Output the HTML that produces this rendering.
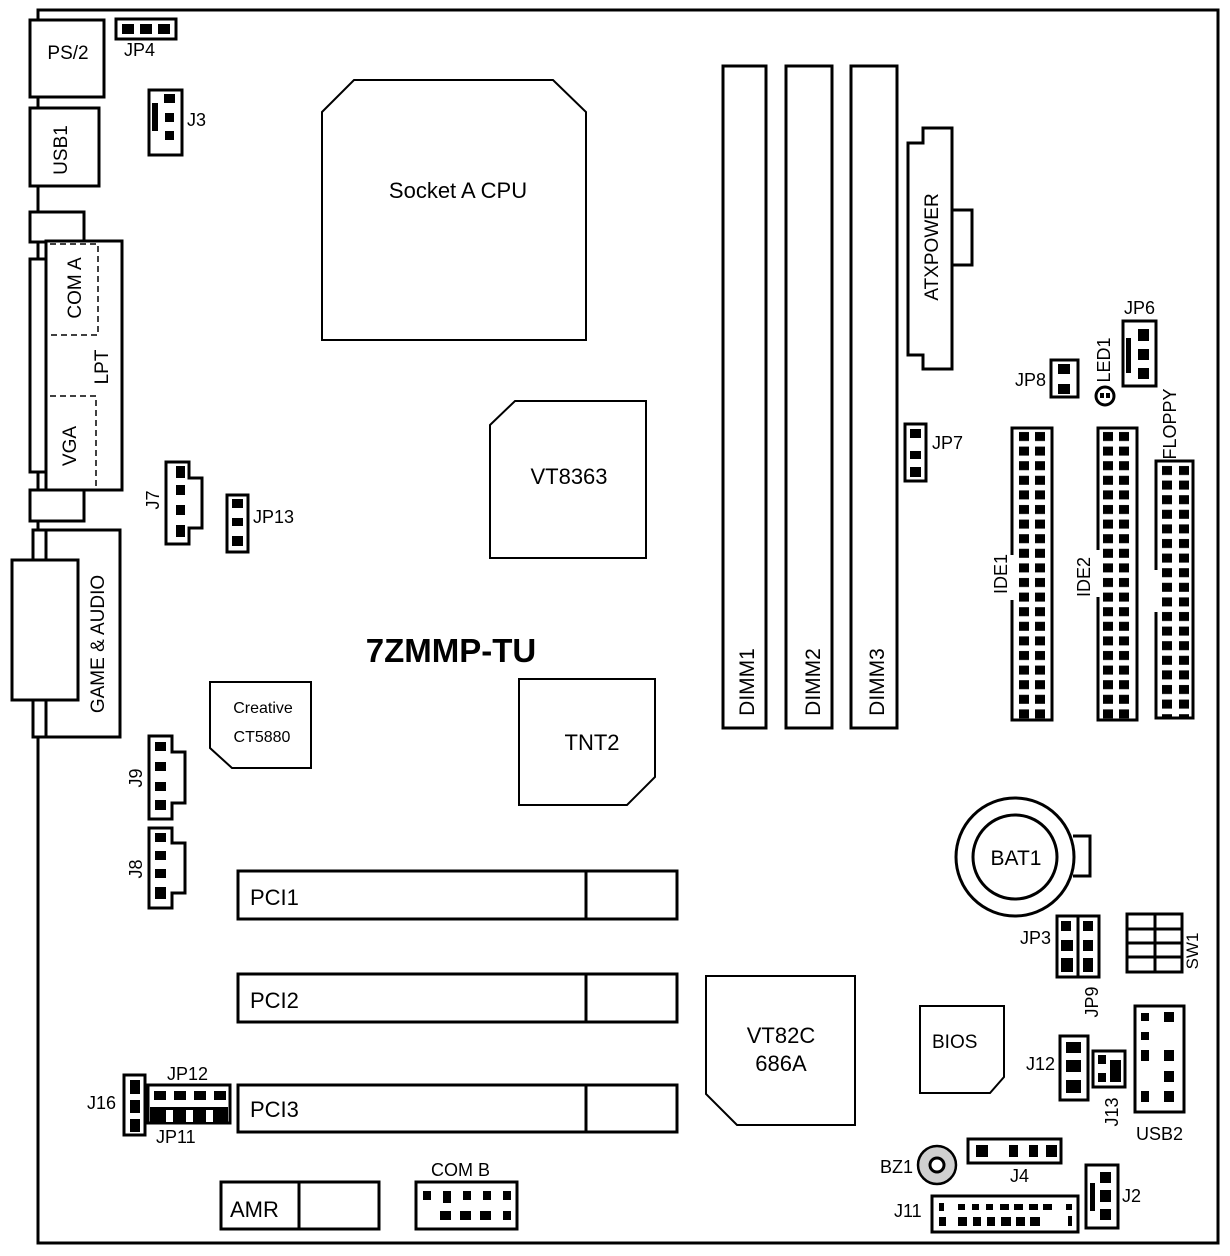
<!DOCTYPE html>
<html><head><meta charset="utf-8"><style>
html,body{margin:0;padding:0;background:#fff;}
svg{display:block;}
text{font-family:"Liberation Sans",sans-serif;fill:#000;}
</style></head><body>
<svg width="1230" height="1256" viewBox="0 0 1230 1256" xmlns="http://www.w3.org/2000/svg">
<defs>
<pattern id="ide" x="1018" y="430" width="16" height="14.6" patternUnits="userSpaceOnUse"><rect x="1" y="2" width="10" height="9" fill="#000"/></pattern>
<pattern id="ide2" x="1102" y="430" width="16" height="14.6" patternUnits="userSpaceOnUse"><rect x="1" y="2" width="10" height="9" fill="#000"/></pattern>
<pattern id="fdd" x="1161" y="464" width="17" height="14.6" patternUnits="userSpaceOnUse"><rect x="1" y="2" width="10" height="9" fill="#000"/></pattern>
</defs>
<g fill="none" stroke="#000" stroke-width="3">
<polyline points="38,20 38,10 1218,10 1218,1243 38,1243 38,1230"/>
<line x1="38" y1="97" x2="38" y2="108"/>
<line x1="38" y1="186" x2="38" y2="212"/>
<line x1="38" y1="737" x2="38" y2="1243"/>
<rect x="30" y="20" width="74" height="77" fill="#fff"/>
<rect x="116" y="19" width="60" height="20"/>
<rect x="149" y="90" width="33" height="65"/>
<rect x="30" y="108" width="69" height="78" fill="#fff"/>
<rect x="30" y="212" width="54" height="30"/>
<rect x="30" y="259" width="16" height="213"/>
<rect x="46" y="241" width="76" height="249" fill="#fff"/>
<rect x="30" y="490" width="54" height="31" fill="#fff"/>
<line x1="38" y1="242" x2="38" y2="259"/>
<line x1="38" y1="472" x2="38" y2="490"/>
<g stroke-width="1.5" stroke-dasharray="6,4"><polyline points="50,244 98,244 98,335 50,335"/><polyline points="50,396 96,396 96,489"/></g>
<rect x="33" y="530" width="87" height="207" fill="#fff"/>
<line x1="46" y1="530" x2="46" y2="737"/>
<rect x="12" y="560" width="66" height="140" fill="#fff"/>
<line x1="38" y1="521" x2="38" y2="530"/>
<polygon points="166,462 189,462 189,478 202,478 202,528 189,528 189,544 166,544"/>
<rect x="227" y="495" width="21" height="57"/>
<polygon points="322,112 354,80 553,80 586,112 586,340 322,340" stroke-width="2"/>
<polygon points="490,425 515,401 646,401 646,558 490,558" stroke-width="2"/>
<polygon points="210,682 311,682 311,768 232,768 210,748" stroke-width="2"/>
<polygon points="519,679 655,679 655,777 627,805 519,805" stroke-width="2"/>
<polygon points="149,736 172,736 172,752 185,752 185,803 172,803 172,819 149,819"/>
<polygon points="149,828 172,828 172,843 185,843 185,893 172,893 172,908 149,908"/>
<rect x="238" y="871" width="439" height="48"/><line x1="586" y1="871" x2="586" y2="919"/>
<rect x="238" y="974" width="439" height="48"/><line x1="586" y1="974" x2="586" y2="1022"/>
<rect x="238" y="1085" width="439" height="47"/><line x1="586" y1="1085" x2="586" y2="1132"/>
<polygon points="706,976 855,976 855,1125 737,1125 706,1094" stroke-width="2"/>
<rect x="723" y="66" width="43" height="662"/>
<rect x="786" y="66" width="46" height="662"/>
<rect x="851" y="66" width="46" height="662"/>
<polygon points="923,128 952,128 952,369 923,369 923,355 908,355 908,143 923,143"/>
<polyline points="952,210 972,210 972,265 952,265"/>
<rect x="905" y="424" width="21" height="57"/>
<rect x="1051" y="360" width="27" height="37"/>
<rect x="1123" y="321" width="33" height="65"/>
<circle cx="1105" cy="396" r="9"/>
<polyline points="1012,555 1012,428 1052,428 1052,720 1012,720 1012,600"/>
<polyline points="1098,550 1098,428 1137,428 1137,720 1098,720 1098,597"/>
<polyline points="1156,570 1156,461 1193,461 1193,718 1156,718 1156,612"/>
<circle cx="1015" cy="857" r="59" stroke-width="3"/>
<circle cx="1015" cy="857" r="42"/>
<polyline points="1073,836 1090,836 1090,876 1073,876"/>
<rect x="1057" y="916" width="42" height="61"/><line x1="1078" y1="916" x2="1078" y2="977"/>
<rect x="1127" y="914" width="55" height="58"/>
<line x1="1155" y1="914" x2="1155" y2="972"/>
<line x1="1127" y1="929" x2="1182" y2="929"/><line x1="1127" y1="943" x2="1182" y2="943"/><line x1="1127" y1="957" x2="1182" y2="957"/>
<polygon points="920,1006 1004,1006 1004,1077 990,1093 920,1093" stroke-width="2"/>
<rect x="1060" y="1036" width="28" height="64"/>
<rect x="1093" y="1051" width="32" height="36"/>
<rect x="1135" y="1006" width="49" height="106"/>
<rect x="968" y="1139" width="93" height="24"/>
<circle cx="937" cy="1165" r="19" fill="#d0d0d0" stroke-width="2.5"/>
<circle cx="937" cy="1165" r="7" fill="#fff" stroke-width="3"/>
<rect x="932" y="1196" width="146" height="36"/>
<rect x="1086" y="1165" width="32" height="63"/>
<rect x="124" y="1075" width="21" height="60"/>
<rect x="148" y="1085" width="82" height="38"/>
<rect x="221" y="1182" width="158" height="47"/><line x1="299" y1="1182" x2="299" y2="1229"/>
<rect x="416" y="1182" width="101" height="47"/>
</g>
<g fill="#000">
<rect x="122" y="24" width="12" height="10"/><rect x="140" y="24" width="12" height="10"/><rect x="158" y="24" width="12" height="10"/>
<rect x="152" y="103" width="6" height="28"/><rect x="164" y="94" width="11" height="9"/><rect x="165" y="113" width="9" height="9"/><rect x="165" y="131" width="9" height="9"/>
<rect x="176" y="466" width="9" height="12"/><rect x="176" y="485" width="9" height="10"/><rect x="176" y="505" width="9" height="10"/><rect x="176" y="525" width="9" height="12"/>
<rect x="232" y="499" width="11" height="9"/><rect x="232" y="518" width="11" height="8"/><rect x="232" y="536" width="11" height="10"/>
<rect x="155" y="742" width="11" height="9"/><rect x="155" y="762" width="11" height="9"/><rect x="155" y="782" width="11" height="9"/><rect x="155" y="800" width="11" height="10"/>
<rect x="155" y="833" width="11" height="9"/><rect x="155" y="851" width="11" height="9"/><rect x="155" y="869" width="11" height="9"/><rect x="155" y="887" width="11" height="12"/>
<rect x="910" y="429" width="11" height="9"/><rect x="910" y="451" width="11" height="8"/><rect x="910" y="467" width="11" height="10"/>
<rect x="1058" y="364" width="12" height="10"/><rect x="1058" y="384" width="12" height="10"/>
<rect x="1100" y="393" width="4" height="5"/><rect x="1106" y="393" width="4" height="5"/>
<rect x="1126" y="338" width="5" height="35"/><rect x="1138" y="329" width="11" height="12"/><rect x="1138" y="349" width="11" height="11"/><rect x="1138" y="368" width="11" height="11"/>
<rect x="1061" y="921" width="10" height="10"/><rect x="1061" y="940" width="12" height="11"/><rect x="1061" y="958" width="12" height="14"/>
<rect x="1083" y="921" width="10" height="10"/><rect x="1083" y="940" width="10" height="11"/><rect x="1083" y="958" width="10" height="14"/>
<rect x="1066" y="1042" width="15" height="11"/><rect x="1066" y="1060" width="15" height="12"/><rect x="1066" y="1080" width="15" height="13"/>
<rect x="1098" y="1055" width="8" height="9"/><rect x="1098" y="1073" width="8" height="9"/><rect x="1110" y="1060" width="11" height="22"/>
<rect x="1141" y="1013" width="8" height="8"/><rect x="1164" y="1012" width="10" height="10"/><rect x="1141" y="1032" width="8" height="8"/>
<rect x="1141" y="1050" width="8" height="11"/><rect x="1164" y="1050" width="10" height="11"/><rect x="1164" y="1071" width="10" height="11"/>
<rect x="1141" y="1091" width="8" height="11"/><rect x="1164" y="1091" width="10" height="11"/>
<rect x="976" y="1145" width="12" height="12"/><rect x="1009" y="1145" width="9" height="12"/><rect x="1029" y="1145" width="9" height="12"/><rect x="1046" y="1145" width="11" height="12"/>
<rect x="939" y="1203" width="5" height="8"/><rect x="958" y="1204" width="7" height="6"/><rect x="972" y="1204" width="7" height="6"/><rect x="986" y="1204" width="7" height="6"/><rect x="1000" y="1204" width="9" height="6"/><rect x="1014" y="1204" width="9" height="6"/><rect x="1029" y="1204" width="9" height="6"/><rect x="1043" y="1204" width="9" height="6"/><rect x="1066" y="1204" width="6" height="6"/>
<rect x="939" y="1217" width="7" height="9"/><rect x="958" y="1217" width="9" height="9"/><rect x="973" y="1217" width="8" height="9"/><rect x="987" y="1217" width="8" height="9"/><rect x="1001" y="1217" width="10" height="9"/><rect x="1016" y="1217" width="9" height="9"/><rect x="1030" y="1217" width="10" height="9"/><rect x="1068" y="1216" width="4" height="10"/>
<rect x="1090" y="1183" width="5" height="28"/><rect x="1100" y="1172" width="11" height="11"/><rect x="1100" y="1190" width="11" height="12"/><rect x="1100" y="1209" width="11" height="11"/>
<rect x="130" y="1080" width="10" height="14"/><rect x="130" y="1100" width="10" height="13"/><rect x="130" y="1119" width="10" height="13"/>
<rect x="154" y="1091" width="12" height="9"/><rect x="174" y="1091" width="12" height="9"/><rect x="194" y="1091" width="12" height="9"/><rect x="214" y="1091" width="12" height="9"/>
<rect x="150" y="1107" width="78" height="15"/>
<rect x="423" y="1191" width="8" height="9"/><rect x="443" y="1191" width="8" height="12"/><rect x="463" y="1191" width="8" height="9"/><rect x="483" y="1191" width="8" height="9"/><rect x="503" y="1191" width="8" height="9"/>
<rect x="440" y="1211" width="11" height="9"/><rect x="460" y="1211" width="11" height="9"/><rect x="480" y="1211" width="11" height="9"/><rect x="503" y="1211" width="8" height="9"/>
</g>
<g fill="#fff"><rect x="166" y="1110" width="7" height="12"/><rect x="186" y="1110" width="7" height="12"/><rect x="206" y="1110" width="7" height="12"/></g>
<rect x="1018" y="430" width="32" height="290" fill="url(#ide)"/>
<rect x="1102" y="430" width="32" height="290" fill="url(#ide2)"/>
<rect x="1161" y="464" width="30" height="254" fill="url(#fdd)"/>
<g font-size="18">
<text x="68" y="59" text-anchor="middle" font-size="19">PS/2</text>
<text x="124" y="56" font-size="18">JP4</text>
<text x="187" y="126" font-size="18">J3</text>
<text transform="translate(67,150) rotate(-90)" text-anchor="middle" font-size="19">USB1</text>
<text transform="translate(81,288) rotate(-90)" text-anchor="middle" font-size="19">COM A</text>
<text transform="translate(108,367) rotate(-90)" text-anchor="middle" font-size="19">LPT</text>
<text transform="translate(76,446) rotate(-90)" text-anchor="middle" font-size="19">VGA</text>
<text transform="translate(104,644) rotate(-90)" text-anchor="middle" font-size="19">GAME &amp; AUDIO</text>
<text transform="translate(159,500) rotate(-90)" text-anchor="middle" font-size="18">J7</text>
<text x="253" y="523" font-size="18">JP13</text>
<text x="458" y="198" text-anchor="middle" font-size="22">Socket A CPU</text>
<text x="569" y="484" text-anchor="middle" font-size="22">VT8363</text>
<text x="451" y="662" text-anchor="middle" font-size="33" font-weight="bold">7ZMMP-TU</text>
<text x="263" y="713" text-anchor="middle" font-size="16">Creative</text>
<text x="262" y="742" text-anchor="middle" font-size="16">CT5880</text>
<text x="592" y="750" text-anchor="middle" font-size="22">TNT2</text>
<text transform="translate(142,778) rotate(-90)" text-anchor="middle" font-size="18">J9</text>
<text transform="translate(142,869) rotate(-90)" text-anchor="middle" font-size="18">J8</text>
<text x="250" y="905" font-size="22">PCI1</text>
<text x="250" y="1008" font-size="22">PCI2</text>
<text x="250" y="1117" font-size="22">PCI3</text>
<text x="781" y="1043" text-anchor="middle" font-size="22">VT82C</text>
<text x="781" y="1071" text-anchor="middle" font-size="22">686A</text>
<text transform="translate(754,682) rotate(-90)" text-anchor="middle" font-size="21">DIMM1</text>
<text transform="translate(820,682) rotate(-90)" text-anchor="middle" font-size="21">DIMM2</text>
<text transform="translate(884,682) rotate(-90)" text-anchor="middle" font-size="21">DIMM3</text>
<text transform="translate(938,247) rotate(-90)" text-anchor="middle" font-size="19">ATXPOWER</text>
<text x="932" y="449" font-size="18">JP7</text>
<text x="1015" y="386" font-size="18">JP8</text>
<text transform="translate(1110,360) rotate(-90)" text-anchor="middle" font-size="18">LED1</text>
<text x="1124" y="314" font-size="18">JP6</text>
<text transform="translate(1176,424) rotate(-90)" text-anchor="middle" font-size="18">FLOPPY</text>
<text transform="translate(1007,574) rotate(-90)" text-anchor="middle" font-size="18">IDE1</text>
<text transform="translate(1090,577) rotate(-90)" text-anchor="middle" font-size="18">IDE2</text>
<text x="1016" y="865" text-anchor="middle" font-size="21">BAT1</text>
<text x="1020" y="944" font-size="18">JP3</text>
<text transform="translate(1198,951) rotate(-90)" text-anchor="middle" font-size="17">SW1</text>
<text transform="translate(1098,1002) rotate(-90)" text-anchor="middle" font-size="18">JP9</text>
<text x="932" y="1048" font-size="19">BIOS</text>
<text x="1026" y="1070" font-size="18">J12</text>
<text transform="translate(1118,1112) rotate(-90)" text-anchor="middle" font-size="18">J13</text>
<text x="1136" y="1140" font-size="18">USB2</text>
<text x="880" y="1173" font-size="18">BZ1</text>
<text x="1010" y="1182" font-size="18">J4</text>
<text x="894" y="1217" font-size="18">J11</text>
<text x="1122" y="1202" font-size="18">J2</text>
<text x="87" y="1109" font-size="18">J16</text>
<text x="167" y="1080" font-size="18">JP12</text>
<text x="156" y="1143" font-size="18">JP11</text>
<text x="230" y="1217" font-size="22">AMR</text>
<text x="431" y="1176" font-size="18">COM B</text>
</g>
</svg>
</body></html>
